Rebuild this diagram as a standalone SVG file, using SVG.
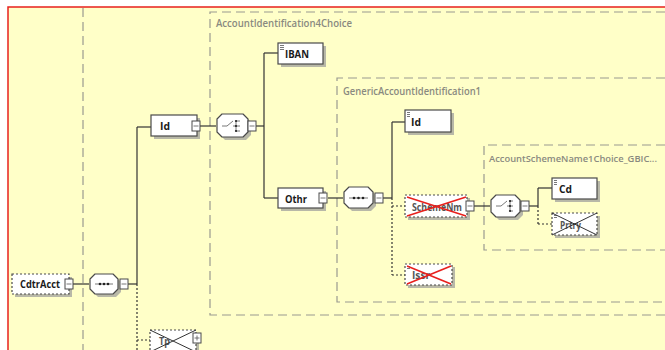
<svg xmlns="http://www.w3.org/2000/svg" width="665" height="350" viewBox="0 0 665 350">
<style>
.bg{fill:#FFFFC8}
.frame{fill:none;stroke:#E8201C;stroke-width:1.5}
.grp{fill:none;stroke:#9A9A90;stroke-width:1.2;stroke-dasharray:9 5}
.glabel{font-family:"Open Sans","Liberation Sans",sans-serif;font-size:10px;font-weight:600;fill:#8A8A80}
.box{fill:#FFFFFF;stroke:#4A4A4A;stroke-width:1.2}
.obox{fill:#FFFFFF;stroke:#4A4A4A;stroke-width:1.2;stroke-dasharray:2 2}
.shadow{fill:#B8B8A8}
.t{font-family:"Open Sans","Liberation Sans",sans-serif;font-size:11px;font-weight:700;fill:#1A1A1A}
.tg{font-family:"Open Sans","Liberation Sans",sans-serif;font-size:11px;font-weight:700;fill:#555}
.ln{fill:none;stroke:#333;stroke-width:1.2}
.dl{fill:none;stroke:#333;stroke-width:1.2;stroke-dasharray:2 2}
.icon{fill:#FFFFFF;stroke:#4A4A4A;stroke-width:1}
.comp{fill:#FFFFFF;stroke:#4A4A4A;stroke-width:1.2;stroke-linejoin:round}
.rx{stroke:#E8201C;stroke-width:1.6}
.kx{stroke:#333;stroke-width:1}
.st{stroke:#555;stroke-width:0.8}
</style>
<rect x="0" y="0" width="665" height="350" fill="#FFFFFF"/>
<rect class="bg" x="8" y="7" width="660" height="346"/>
<path class="frame" d="M8,352 V7 H666"/>
<line class="grp" x1="83" y1="8" x2="83" y2="350"/>

<g id="AccountIdentification4Choice">
<path class="grp" d="M665,12 H210 V315 H665"/>
<text class="glabel" x="216" y="27" textLength="136" lengthAdjust="spacingAndGlyphs">AccountIdentification4Choice</text>
</g>
<g id="GenericAccountIdentification1">
<path class="grp" d="M665,78 H337 V302 H665"/>
<text class="glabel" x="343" y="95" textLength="138" lengthAdjust="spacingAndGlyphs">GenericAccountIdentification1</text>
</g>
<g id="AccountSchemeName1Choice">
<path class="grp" d="M665,145 H484 V250 H665"/>
<text class="glabel" x="489" y="162" style="font-size:9.2px" textLength="168" lengthAdjust="spacingAndGlyphs">AccountSchemeName1Choice_GBIC...</text>
</g>

<g id="connectors">
<line class="ln" x1="73" y1="284" x2="89" y2="284"/>
<line class="ln" x1="128" y1="284" x2="137" y2="284"/>
<line class="ln" x1="137" y1="127" x2="137" y2="284"/>
<line class="dl" x1="137" y1="284" x2="137" y2="350"/>
<line class="dl" x1="137" y1="340" x2="150" y2="340"/>
<line class="ln" x1="137" y1="127" x2="151" y2="127"/>
<line class="ln" x1="200" y1="126" x2="216" y2="126"/>
<line class="ln" x1="256" y1="126" x2="264" y2="126"/>
<line class="ln" x1="264" y1="53" x2="264" y2="198"/>
<line class="ln" x1="264" y1="53" x2="278" y2="53"/>
<line class="ln" x1="264" y1="198" x2="278" y2="198"/>
<line class="ln" x1="328" y1="198" x2="343" y2="198"/>
<line class="ln" x1="383" y1="198" x2="392" y2="198"/>
<line class="ln" x1="392" y1="122" x2="392" y2="198"/>
<line class="dl" x1="392" y1="198" x2="392" y2="275"/>
<line class="ln" x1="392" y1="122" x2="405" y2="122"/>
<line class="dl" x1="392" y1="206" x2="405" y2="206"/>
<line class="dl" x1="392" y1="275" x2="405" y2="275"/>
<line class="ln" x1="474" y1="206" x2="490" y2="206"/>
<line class="ln" x1="529" y1="206" x2="538" y2="206"/>
<line class="ln" x1="538" y1="188" x2="538" y2="206"/>
<line class="dl" x1="538" y1="206" x2="538" y2="224"/>
<line class="ln" x1="538" y1="188" x2="552" y2="188"/>
<line class="dl" x1="538" y1="224" x2="552" y2="224"/>
</g>

<g id="CdtrAcct">
<rect class="shadow" x="15" y="277" width="57" height="20"/>
<rect class="obox" x="12" y="274" width="57" height="20"/>
<text class="t" x="20" y="288" textLength="40" lengthAdjust="spacingAndGlyphs">CdtrAcct</text>
<rect class="icon" x="65" y="279" width="8" height="10"/>
<line class="st" x1="66.5" y1="284" x2="71.5" y2="284"/>
</g>

<g id="seq1">
<polygon class="shadow" points="98,277 116,277 121,282 121,292 116,297 98,297 93,292 93,282"/>
<polygon class="comp" points="95,274 113,274 118,279 118,289 113,294 95,294 90,289 90,279"/>
<line class="st" x1="95" y1="284" x2="113" y2="284"/>
<circle cx="100" cy="284" r="1.3" fill="#222"/><circle cx="104" cy="284" r="1.3" fill="#222"/><circle cx="108" cy="284" r="1.3" fill="#222"/>
<rect class="icon" x="120" y="279" width="8" height="10"/>
<line class="st" x1="121.5" y1="284" x2="126.5" y2="284"/>
</g>

<g id="Tp">
<rect class="shadow" x="153" y="333" width="46" height="20"/>
<rect class="obox" x="150" y="330" width="46" height="22"/>
<text class="tg" x="159" y="345" textLength="11" lengthAdjust="spacingAndGlyphs">Tp</text>
<line class="kx" x1="150" y1="330" x2="196" y2="352"/>
<line class="kx" x1="150" y1="352" x2="196" y2="330"/>
<rect class="icon" x="193" y="333" width="8" height="10"/>
<line class="st" x1="194.5" y1="338" x2="199.5" y2="338"/>
<line class="st" x1="197" y1="335.5" x2="197" y2="340.5"/>
</g>

<g id="Id">
<rect class="shadow" x="154" y="118" width="46" height="21"/>
<rect class="box" x="151" y="115" width="46" height="21"/>
<text class="t" x="160" y="130" textLength="10" lengthAdjust="spacingAndGlyphs">Id</text>
<rect class="icon" x="192" y="121" width="8" height="10"/>
<line class="st" x1="193.5" y1="126" x2="198.5" y2="126"/>
</g>

<g id="choice1">
<polygon class="shadow" points="225,117 246,117 251,122 251,135 246,140 225,140 220,135 220,122"/>
<polygon class="comp" points="222,114 243,114 248,119 248,132 243,137 222,137 217,132 217,119"/>
<path class="st" fill="none" d="M222,126 H227 L233,121 M233,126 H240 M236,121 V131 M236,121 H240 M236,131 H240"/>
<circle cx="236" cy="121" r="1.1" fill="#222"/><circle cx="236" cy="126" r="1.1" fill="#222"/><circle cx="236" cy="131" r="1.1" fill="#222"/>
<rect class="icon" x="248" y="121" width="8" height="10"/>
<line class="st" x1="249.5" y1="126" x2="254.5" y2="126"/>
</g>

<g id="IBAN">
<rect class="shadow" x="281" y="46" width="45" height="21"/>
<rect class="box" x="278" y="43" width="45" height="21"/>
<path class="st" d="M280,45.5 H284 M280,47.5 H284 M280,49.5 H284"/>
<text class="t" x="285" y="58" textLength="24" lengthAdjust="spacingAndGlyphs">IBAN</text>
</g>

<g id="Othr">
<rect class="shadow" x="281" y="191" width="45" height="20"/>
<rect class="box" x="278" y="188" width="45" height="20"/>
<text class="t" x="285" y="203" textLength="22" lengthAdjust="spacingAndGlyphs">Othr</text>
<rect class="icon" x="319" y="193" width="8" height="10"/>
<line class="st" x1="320.5" y1="198" x2="325.5" y2="198"/>
</g>

<g id="seq2">
<polygon class="shadow" points="352,190 371,190 376,195 376,206 371,211 352,211 347,206 347,195"/>
<polygon class="comp" points="349,187 368,187 373,192 373,203 368,208 349,208 344,203 344,192"/>
<line class="st" x1="349" y1="198" x2="368" y2="198"/>
<circle cx="354" cy="198" r="1.3" fill="#222"/><circle cx="358.5" cy="198" r="1.3" fill="#222"/><circle cx="363" cy="198" r="1.3" fill="#222"/>
<rect class="icon" x="375" y="193" width="8" height="10"/>
<line class="st" x1="376.5" y1="198" x2="381.5" y2="198"/>
</g>

<g id="InnerId">
<rect class="shadow" x="408" y="113" width="46" height="22"/>
<rect class="box" x="405" y="110" width="46" height="22"/>
<path class="st" d="M407,112.5 H410 M407,114.5 H410 M407,116.5 H410"/>
<text class="t" x="411" y="126" textLength="10" lengthAdjust="spacingAndGlyphs">Id</text>
</g>

<g id="SchemeNm">
<rect class="shadow" x="408" y="198" width="62" height="22"/>
<rect class="obox" x="405" y="195" width="62" height="22"/>
<text class="tg" x="412" y="211" textLength="50" lengthAdjust="spacingAndGlyphs">SchemeNm</text>
<line class="rx" x1="407" y1="197" x2="466" y2="216"/>
<line class="rx" x1="407" y1="216" x2="466" y2="197"/>
<rect class="icon" x="466" y="201" width="8" height="10"/>
<line class="st" x1="467.5" y1="206" x2="472.5" y2="206"/>
</g>

<g id="choice2">
<polygon class="shadow" points="499,198 518,198 523,203 523,215 518,220 499,220 494,215 494,203"/>
<polygon class="comp" points="496,195 515,195 520,200 520,212 515,217 496,217 491,212 491,200"/>
<path class="st" fill="none" d="M496,206 H501 L507,201 M507,206 H513 M510,201 V211 M510,201 H513 M510,211 H513"/>
<circle cx="510" cy="201" r="1.1" fill="#222"/><circle cx="510" cy="206" r="1.1" fill="#222"/><circle cx="510" cy="211" r="1.1" fill="#222"/>
<rect class="icon" x="521" y="201" width="8" height="10"/>
<line class="st" x1="522.5" y1="206" x2="527.5" y2="206"/>
</g>

<g id="Cd">
<rect class="shadow" x="555" y="181" width="45" height="21"/>
<rect class="box" x="552" y="178" width="45" height="21"/>
<path class="st" d="M554,180.5 H557 M554,182.5 H557 M554,184.5 H557"/>
<text class="t" x="559" y="193" textLength="13" lengthAdjust="spacingAndGlyphs">Cd</text>
</g>

<g id="Prtry">
<rect class="shadow" x="555" y="216" width="45" height="22"/>
<rect class="obox" x="552" y="213" width="45" height="22"/>
<path class="st" d="M554,215.5 H557 M554,217.5 H557"/>
<text class="tg" x="560" y="229" textLength="21" lengthAdjust="spacingAndGlyphs">Prtry</text>
<line class="kx" x1="552" y1="235" x2="597" y2="213"/>
<line class="kx" x1="552" y1="213" x2="597" y2="235"/>
</g>

<g id="Issr">
<rect class="shadow" x="408" y="267" width="47" height="21"/>
<rect class="obox" x="405" y="264" width="47" height="21"/>
<path class="st" d="M407,266.5 H410 M407,268.5 H410"/>
<text class="tg" x="412" y="279" textLength="18" lengthAdjust="spacingAndGlyphs">Issr</text>
<line class="rx" x1="407" y1="266" x2="451" y2="284"/>
<line class="rx" x1="407" y1="284" x2="451" y2="266"/>
</g>
</svg>
